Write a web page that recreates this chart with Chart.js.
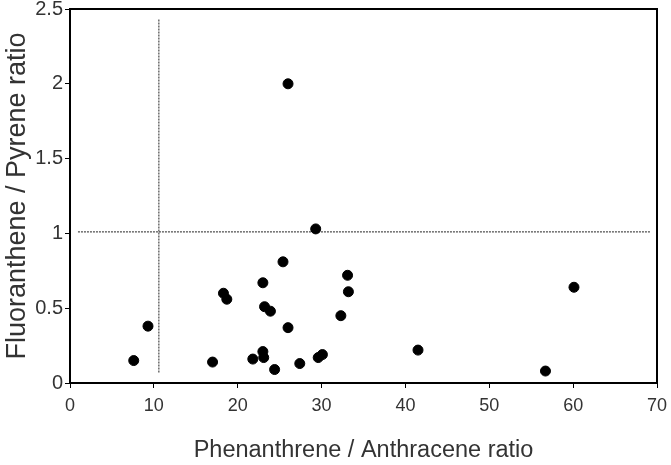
<!DOCTYPE html>
<html>
<head>
<meta charset="utf-8">
<script src="https://cdn.jsdelivr.net/npm/chart.js@4"></script>
<style>
  html, body { margin: 0; padding: 0; background: #fff; }
  #wrap { width: 671px; height: 465px; }
</style>
</head>
<body>
<div id="wrap"><canvas id="chart" width="671" height="465"></canvas></div>
<script>
// Phenanthrene/Anthracene (x) vs Fluoranthene/Pyrene (y)
const phenAnth = [7.6, 9.3, 17.0, 18.3, 18.7, 21.8, 23.0, 23.0, 23.1, 23.2, 23.9, 24.4,
  25.4, 26.0, 26.0, 27.4, 29.3, 29.6, 30.1, 32.3, 33.1, 33.2, 41.5, 56.7, 60.1];
const fluoPyr = [0.15, 0.38, 0.14, 0.60, 0.56, 0.16, 0.67, 0.21, 0.17, 0.51, 0.48, 0.09,
  0.81, 0.37, 2.0, 0.13, 1.03, 0.17, 0.19, 0.45, 0.72, 0.61, 0.22, 0.08, 0.64];

// threshold guide lines
const vLineX = [10.6, 10.6];
const vLineY = [0.07, 2.43];
const hLineX = [0.95, 69.2];
const hLineY = [1.01, 1.01];

const xTicks = [0, 10, 20, 30, 40, 50, 60, 70];
const yTicks = [0, 0.5, 1, 1.5, 2, 2.5];

const toPts = (xs, ys) => xs.map((x, i) => ({ x: x, y: ys[i] }));

Chart.defaults.font.family = '"Liberation Sans", Arial, sans-serif';
Chart.defaults.color = '#333';

const frame = {
  id: 'frame',
  afterDatasetsDraw(chart) {
    const a = chart.chartArea, c = chart.ctx;
    c.save();
    c.strokeStyle = '#000';
    c.lineWidth = 2;
    c.beginPath();
    c.moveTo(a.left, a.top);
    c.lineTo(a.right, a.top);
    c.lineTo(a.right, a.bottom);
    c.stroke();
    c.restore();
  }
};

new Chart(document.getElementById('chart'), {
  type: 'scatter',
  plugins: [frame],
  data: {
    datasets: [
      {
        label: 'samples',
        data: toPts(phenAnth, fluoPyr),
        backgroundColor: '#000',
        borderColor: '#000',
        pointRadius: 5,
        pointHoverRadius: 5,
        order: 0
      },
      {
        label: 'v',
        data: toPts(vLineX, vLineY),
        showLine: true,
        borderColor: '#222',
        borderWidth: 1,
        borderDash: [2, 1],
        pointRadius: 0,
        order: 1
      },
      {
        label: 'h',
        data: toPts(hLineX, hLineY),
        showLine: true,
        borderColor: '#222',
        borderWidth: 1,
        borderDash: [2, 1],
        pointRadius: 0,
        order: 1
      }
    ]
  },
  options: {
    responsive: false,
    devicePixelRatio: 1,
    animation: false,
    layout: { padding: { top: 9, right: 14, left: 0, bottom: 0 } },
    plugins: {
      legend: { display: false },
      tooltip: { enabled: false }
    },
    scales: {
      x: {
        type: 'linear',
        min: 0,
        max: 70,
        afterBuildTicks: s => { s.ticks = xTicks.map(v => ({ value: v })); },
        afterFit: s => { s.height = 82; s.paddingLeft = 0; s.paddingRight = 0; },
        grid: { drawOnChartArea: false, tickLength: 5, color: '#000', tickWidth: 1 },
        border: { color: '#000', width: 2 },
        ticks: { font: { size: 18 }, padding: 7, color: '#333' },
        title: {
          display: true,
          text: 'Phenanthrene / Anthracene ratio',
          font: { size: 23.5 },
          color: '#333',
          padding: { top: 6, bottom: 0 }
        }
      },
      y: {
        type: 'linear',
        min: 0,
        max: 2.5,
        afterBuildTicks: s => { s.ticks = yTicks.map(v => ({ value: v })); },
        afterFit: s => { s.width = 70; s.paddingTop = 0; s.paddingBottom = 0; },
        grid: { drawOnChartArea: false, tickLength: 5, color: '#000', tickWidth: 1 },
        border: { color: '#000', width: 2 },
        ticks: { font: { size: 20 }, padding: 2, color: '#333', callback: v => String(v) },
        title: {
          display: true,
          text: 'Fluoranthene / Pyrene ratio',
          font: { size: 27 },
          color: '#333',
          padding: { top: 1, bottom: 0 }
        }
      }
    }
  }
});
</script>
</body>
</html>
